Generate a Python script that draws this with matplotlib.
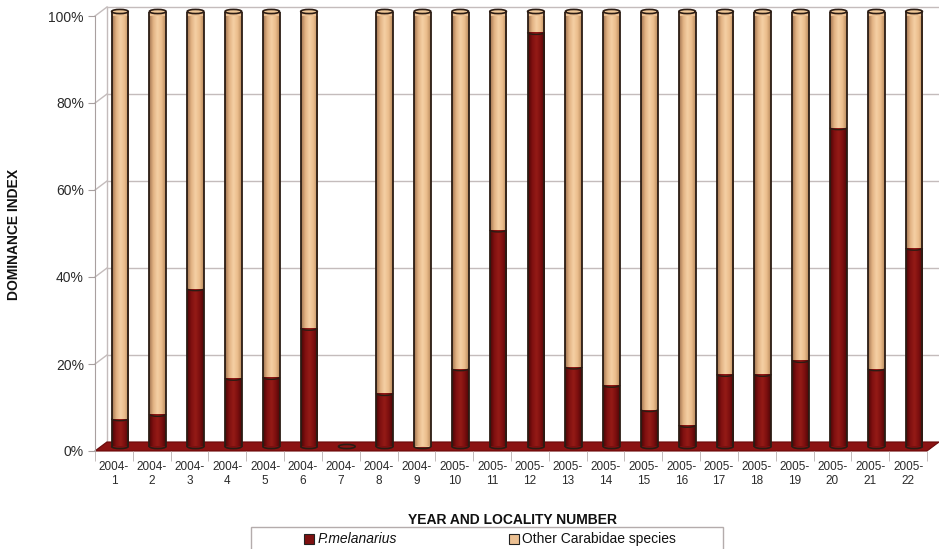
import matplotlib.pyplot as plt
import numpy as np
from matplotlib.colors import LinearSegmentedColormap
from matplotlib.patches import Ellipse, Arc, Polygon, Rectangle

plt.rcParams['font.family'] = ['Liberation Sans', 'DejaVu Sans']

sites = ['2004-\n1', '2004-\n2', '2004-\n3', '2004-\n4', '2004-\n5', '2004-\n6',
         '2004-\n7', '2004-\n8', '2004-\n9', '2005-\n10', '2005-\n11', '2005-\n12',
         '2005-\n13', '2005-\n14', '2005-\n15', '2005-\n16', '2005-\n17', '2005-\n18',
         '2005-\n19', '2005-\n20', '2005-\n21', '2005-\n22']
# dominance (%) of P. melanarius and of the remaining carabids per site
melanarius = [6.4, 7.4, 36.3, 15.7, 15.9, 27.2, 0, 12.2, 0, 17.9, 49.8,
              95.2, 18.3, 14.1, 8.5, 4.9, 16.6, 16.6, 19.8, 73.3, 17.9, 45.6]
other = [93.6, 92.6, 63.7, 84.3, 84.1, 72.8, 0, 87.8, 100, 82.1, 50.2,
         4.8, 81.7, 85.9, 91.5, 95.1, 83.4, 83.4, 80.2, 26.7, 82.1, 54.4]
yticks = [0, 20, 40, 60, 80, 100]

W, H = 939, 549
RED = '#7d1010'
TAN = '#ecc092'
EDGE = '#2b1c14'
GRID = '#c4bcbc'

fig = plt.figure(figsize=(W / 100, H / 100), dpi=100)
ax = fig.add_axes([95 / W, (H - 451) / H, 832 / W, 435 / H])

# pseudo-3D depth offsets in data units
DX = 12 / (832 / 22)
DY = 9 / 4.35
BW = 0.44
EH = 0.95

x = np.arange(len(sites))
xb = x + DX / 2
base = DY / 2
mel = np.array(melanarius)
oth = np.array(other)

# back wall grid and left wall
for v in yticks:
    ax.plot([-0.5 + DX, 21.5 + DX], [v + DY, v + DY], color=GRID, lw=1, zorder=0.5, clip_on=False)
    ax.plot([-0.5, -0.5 + DX], [v, v + DY], color=GRID, lw=1, zorder=0.5, clip_on=False)
ax.plot([-0.5 + DX, -0.5 + DX], [DY, 100 + DY], color=GRID, lw=1, zorder=0.5, clip_on=False)

# floor
ax.add_patch(Polygon([(-0.5, 0), (21.5, 0), (21.5 + DX, DY), (-0.5 + DX, DY)],
                     closed=True, fc='#8b1313', ec='#6a0808', lw=0.8, zorder=1, clip_on=False))

red_bars = ax.bar(xb, mel, width=BW, bottom=base, color=RED, lw=0, zorder=3, clip_on=False)
tan_bars = ax.bar(xb, oth, width=BW, bottom=base + mel, color=TAN, lw=0, zorder=3, clip_on=False)

red_cmap = LinearSegmentedColormap.from_list('red', ['#4a0606', '#801010', '#951b16', '#7d0f0f', '#4e0707'])
tan_cmap = LinearSegmentedColormap.from_list('tan', ['#a07450', '#e2b283', '#f5d0a4', '#ebbd8c', '#b8895c'])
grad = np.linspace(0, 1, 64).reshape(1, -1)

for bars, cmap in [(red_bars, red_cmap), (tan_bars, tan_cmap)]:
    for p in bars.patches:
        if p.get_height() <= 0:
            continue
        x0, y0 = p.get_xy()
        ax.imshow(grad, cmap=cmap, extent=(x0, x0 + p.get_width(), y0, y0 + p.get_height()),
                  aspect='auto', interpolation='bilinear', clip_path=p, zorder=3.2)

# cylinder outlines, section boundaries and caps
for i in range(len(sites)):
    total = mel[i] + oth[i]
    top = base + total
    if total > 0:
        ax.vlines([xb[i] - BW / 2, xb[i] + BW / 2], base, top, color=EDGE, lw=1.3, zorder=4, clip_on=False)
        ax.add_patch(Arc((xb[i], base), BW, EH, theta1=180, theta2=360, color=EDGE, lw=1.2,
                         zorder=4, clip_on=False))
    if mel[i] > 0 and oth[i] > 0:
        ax.add_patch(Arc((xb[i], base + mel[i]), BW, EH, theta1=180, theta2=360, color=EDGE, lw=1,
                         zorder=4, clip_on=False))
    cap = '#f0c898' if oth[i] > 0 else ('#8b1313' if mel[i] == 0 else '#9a1a15')
    ax.add_patch(Ellipse((xb[i], top), BW, EH, fc=cap, ec=EDGE, lw=1.2, zorder=5, clip_on=False))

ax.set_xlim(-0.5, 21.5)
ax.set_ylim(0, 100)
for s in ['top', 'right', 'bottom']:
    ax.spines[s].set_visible(False)
ax.spines['left'].set_color('#a8a0a0')
ax.set_yticks(yticks)
ax.set_yticklabels([f'{v}%' for v in yticks])
ax.tick_params(axis='y', color='#a8a0a0', labelcolor='#2a2a2a', length=5, labelsize=10, pad=3)
ax.set_xticks(x)
ax.set_xticklabels(sites, linespacing=1.3)
ax.set_xticks(np.arange(len(sites) + 1) - 0.5, minor=True)
ax.tick_params(axis='x', which='major', length=0, pad=7, labelsize=8.5, labelcolor='#2a2a2a')
ax.tick_params(axis='x', which='minor', length=7, color='#b8b0b0')

fig.text(14 / W, (H - 234) / H, 'DOMINANCE INDEX', rotation=90, fontsize=10, fontweight='bold',
         ha='center', va='center', color='#111111')
fig.text(513 / W, (H - 520) / H, 'YEAR AND LOCALITY NUMBER', fontsize=10, fontweight='bold',
         ha='center', va='center', color='#111111')

# legend box (runs off the lower edge)
fig.add_artist(Rectangle((251 / W, (H - 565) / H), 472 / W, 38 / H, transform=fig.transFigure,
                         fill=False, ec='#b4acac', lw=1))
fig.add_artist(Rectangle((304 / W, (H - 544) / H), 10 / W, 10 / H, transform=fig.transFigure,
                         fc=RED, ec='#222222', lw=0.8))
fig.text(318 / W, (H - 539) / H, 'P.melanarius', fontsize=10, style='italic', va='center', color='#111111')
fig.add_artist(Rectangle((509 / W, (H - 544) / H), 10 / W, 10 / H, transform=fig.transFigure,
                         fc=TAN, ec='#222222', lw=0.8))
fig.text(522 / W, (H - 539) / H, 'Other Carabidae species', fontsize=10, va='center', color='#111111')

fig.savefig('out.png', dpi=100)
